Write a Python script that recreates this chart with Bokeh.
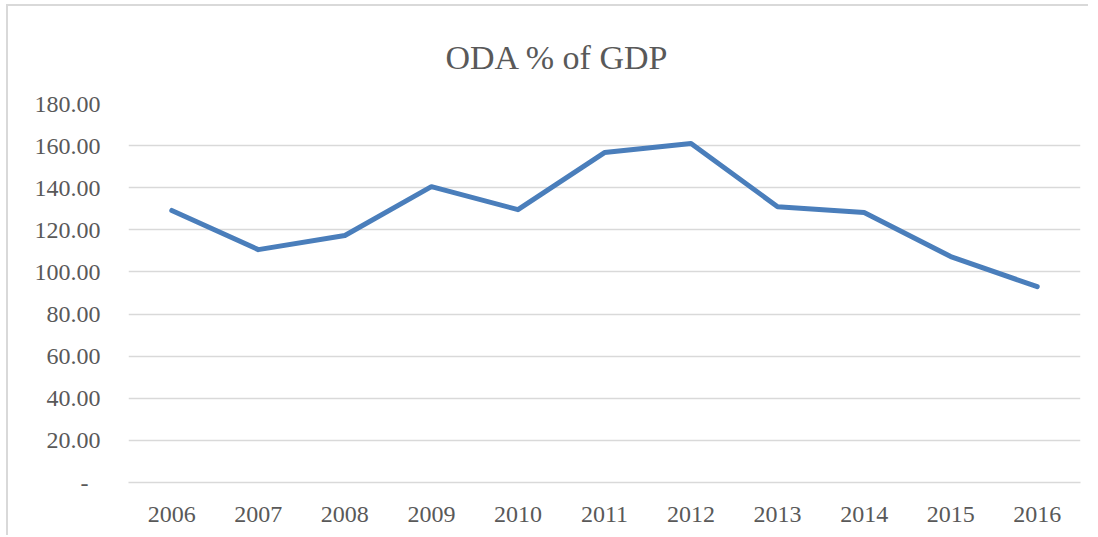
from bokeh.plotting import figure
from bokeh.models import Range1d, FixedTicker, NumeralTickFormatter
from bokeh.embed import file_html
from bokeh.resources import INLINE

years = ["2006", "2007", "2008", "2009", "2010", "2011", "2012", "2013", "2014", "2015", "2016"]
oda_pct = [129.2, 110.6, 117.3, 140.5, 129.6, 156.7, 161.0, 131.0, 128.2, 107.3, 93.0]
y_ticks = [0, 20, 40, 60, 80, 100, 120, 140, 160, 180]
title_text = "ODA % of GDP"

FONT = "Liberation Serif"
GREY = "#595959"

p = figure(x_range=years, y_range=Range1d(0, 180), width=1082, height=531,
           output_backend="svg", toolbar_location=None,
           min_border_left=120, min_border_right=10, min_border_top=97, min_border_bottom=55)
p.styles = {"border-left": "2px solid #d9d9d9", "border-top": "2px solid #d9d9d9",
            "margin-left": "6px", "margin-top": "4px"}

p.line(years, oda_pct, line_color="#4a7ebb", line_width=5, line_cap="round", line_join="round")

p.title.text = title_text
p.title.text_font = FONT
p.title.text_font_size = "34px"
p.title.text_font_style = "normal"
p.title.text_color = GREY
p.title.align = "left"
p.title.offset = 317
p.title.standoff = 55

p.outline_line_color = None
p.xgrid.grid_line_color = None
p.ygrid.grid_line_color = "#d9d9d9"
p.ygrid.grid_line_width = 1.5

p.yaxis.ticker = FixedTicker(ticks=y_ticks)
p.yaxis.formatter = NumeralTickFormatter(format="0.00")
p.yaxis.major_label_overrides = {0: "-\u00a0\u00a0"}
p.yaxis.axis_line_color = None
p.yaxis.major_tick_line_color = None
p.yaxis.minor_tick_line_color = None
p.yaxis.major_label_standoff = 22

p.xaxis.axis_line_color = "#d9d9d9"
p.xaxis.axis_line_width = 1.5
p.xaxis.major_tick_line_color = None
p.xaxis.minor_tick_line_color = None
p.xaxis.major_label_standoff = 18

for ax in (p.xaxis, p.yaxis):
    ax.major_label_text_font = FONT
    ax.major_label_text_font_size = "24px"
    ax.major_label_text_color = GREY

open("out.html", "w").write(file_html(p, INLINE))
